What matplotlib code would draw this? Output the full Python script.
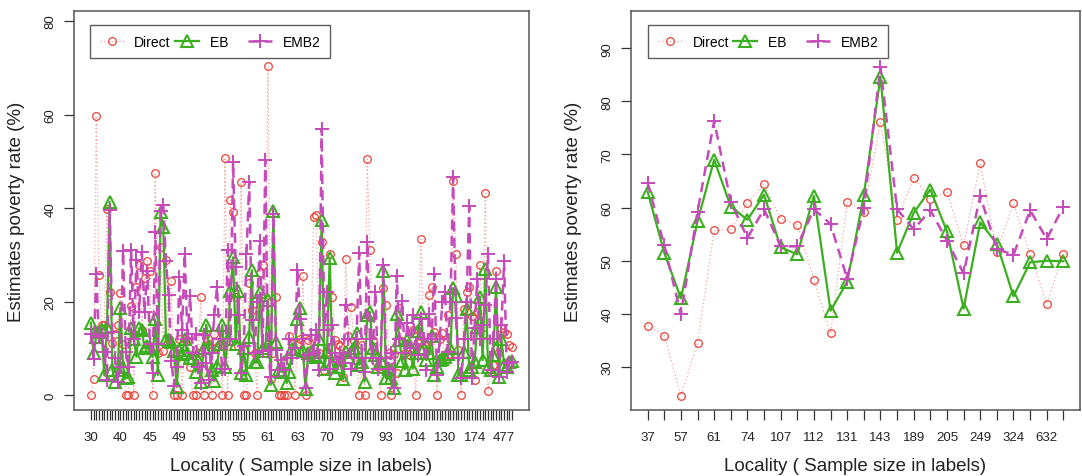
import matplotlib
matplotlib.use("Agg")
import matplotlib.pyplot as plt
from matplotlib.lines import Line2D
import numpy as np

plt.rcParams['font.family'] = ['Liberation Sans', 'DejaVu Sans']

# ---- left panel: all localities (sorted by sample size) ----
left_labels = ["30", "40", "45", "49", "53", "55", "61", "63", "70", "79",
               "93", "104", "130", "174", "477"]

left_direct = [
    0, 3.4, 59.8, 25.7, 15, 15.1, 39.8, 22, 11.2, 13,
    15, 21.8, 11, 0, 0, 19, 0, 23.1, 27.9, 14,
    25, 28.8, 26.5, 0, 47.6, 9, 31.8, 9.5, 29, 12,
    24.4, 0, 0, 12, 0, 12.1, 11.8, 6.1, 0, 0,
    9, 21.1, 0, 13, 11, 0, 13, 10.3, 11, 0,
    50.8, 0, 41.7, 39.2, 21, 10.5, 45.5, 0, 0, 24,
    18.2, 9, 0, 26.1, 27.9, 21.1, 70.3, 3.4, 9, 21,
    0, 0, 0, 0, 12.7, 11, 0, 11, 12, 25.6,
    0, 11.8, 9, 38.1, 38.6, 9, 32.8, 5.4, 9.2, 30.3,
    21, 11.8, 11, 10.5, 4, 29.1, 12.7, 18.8, 11.5, 7.5,
    0, 10.7, 0, 50.5, 31.1, 11.8, 7.3, 6, 0, 22.9,
    19.2, 9, 0, 8.9, 4.8, 18.7, 11.5, 9, 11, 8.5,
    13.9, 0, 11.2, 33.4, 11, 10.5, 21.5, 23.1, 13.5, 0,
    12.1, 13.2, 7.3, 17.1, 8.9, 45.8, 30.3, 9.6, 0, 18.5,
    22, 23.1, 17, 3.3, 17.8, 27.9, 13, 43.2, 0.9, 5,
    6.4, 26.5, 9.3, 14.4, 13.5, 13, 10.7, 10.3,
]

left_eb = [
    15.5, 9.1, 12.5, 13.6, 14, 4.3, 14.6, 41.4, 5.5, 2.9,
    5.5, 18.7, 6, 3.6, 3.8, 14.3, 12.1, 8.2, 14.3, 14,
    10.1, 10.6, 10.1, 8.2, 16.2, 4.3, 39.1, 35.9, 12, 11.8,
    11.4, 9.5, 1.8, 9.6, 8.9, 12.1, 9, 8, 8, 5,
    7.5, 2.9, 10, 15.1, 10.4, 5.4, 3, 6.3, 10.9, 15,
    6, 12, 22.3, 29.5, 10.9, 22.3, 4.7, 10, 4.3, 12.5,
    26.7, 7, 7, 22, 10, 9.5, 20.3, 2.2, 39.4, 11.3,
    5.5, 5, 7, 2.6, 5, 9.8, 9.8, 16.2, 18.6, 9.5,
    1.4, 9, 9.3, 8.5, 8.2, 12, 37.4, 5.7, 9.3, 29.4,
    6.8, 4.7, 6, 7.5, 3.4, 9.3, 8.2, 9.3, 10, 13.2,
    6.5, 7.2, 2.9, 17.1, 17.8, 10, 8.6, 6, 7.3, 26.5,
    3.6, 5.7, 3.6, 1.6, 17.4, 11.8, 7.3, 5.5, 11.8, 10,
    5.7, 9, 13.7, 17.7, 10, 7.5, 9, 12.7, 4.3, 6,
    7.5, 7.8, 8.2, 8.9, 10, 22.9, 21.3, 4.3, 4.3, 9.3,
    18.5, 5.4, 6, 7.2, 14.5, 21.1, 7.5, 27, 6, 5.5,
    8.7, 23.1, 3.8, 12.1, 6.5, 6.1, 7, 7.3,
]

left_emb2 = [
    13, 7.7, 26, 12.5, 12.8, 9.3, 3.3, 39.6, 13.5, 7.9,
    2.9, 6, 30.9, 9.3, 6.1, 31, 12, 28.9, 17.9, 30.6,
    17.7, 26.5, 11, 4.7, 35, 10.9, 39.5, 40.7, 28.6, 21.5,
    7.3, 2, 6, 25.2, 14, 30.2, 12, 21.2, 9, 13,
    6, 2.7, 12.8, 6.8, 3.3, 9, 17.1, 23.1, 12, 5.7,
    5.7, 31.1, 12, 49.9, 27.4, 17.1, 4.7, 10.5, 30.2, 45.6,
    16, 9, 20, 32.9, 9.5, 50.4, 9.6, 4, 38.7, 9.7,
    5.5, 7.5, 5.5, 8, 12, 8, 10, 26.7, 16.4, 12,
    1.6, 8.5, 12.8, 9, 13.9, 5.5, 57, 14, 22, 5.7,
    15.1, 9, 7.2, 9, 6.8, 19.2, 12, 5.7, 8, 12,
    30.4, 8, 5, 32.7, 12, 8, 22.1, 5.7, 8, 27.9,
    8, 5.7, 9, 1.6, 25.6, 12, 20.1, 9, 15.5, 10,
    17.2, 11, 8.7, 16.4, 12, 5.4, 17.4, 12, 26, 4.3,
    12, 19.9, 22.1, 9.3, 20, 46.7, 16.5, 8, 3.6, 12,
    20, 40.5, 3.6, 14.3, 24.9, 12, 15, 19.2, 30.2, 5.4,
    12, 24.9, 3.8, 15, 28.6, 5, 6.8, 7.2,
]

# ---- right panel: larger localities ----
right_labels = ["37", "57", "61", "74", "107", "112", "131", "143", "189",
                "205", "249", "324", "632"]

right_direct = [37.8, 35.9, 24.6, 34.5, 55.7, 55.9, 60.8, 64.4, 57.9, 56.7,
                46.4, 36.3, 61.1, 59.2, 76.2, 57.7, 65.6, 61.7, 62.9, 53.0,
                68.3, 51.7, 60.8, 51.2, 41.9, 51.2]
right_eb = [63.0, 51.5, 42.9, 57.4, 69.0, 60.2, 57.7, 62.4, 52.5, 51.2,
            62.2, 40.6, 46.0, 62.3, 84.6, 51.5, 59.0, 63.4, 55.5, 41.0,
            57.2, 53.2, 43.3, 49.7, 50.0, 49.9]
right_emb2 = [64.7, 52.9, 39.9, 59.2, 76.3, 61.1, 54.3, 59.7, 52.7, 52.7,
              59.7, 56.9, 46.6, 60.0, 86.5, 59.7, 55.9, 59.5, 53.8, 47.6,
              62.2, 52.2, 51.1, 59.5, 54.1, 60.2]

RED = "#EE4036"
RED_LINE = "#F6A5A0"
GREEN = "#3BAF1F"
MAGENTA = "#C64BBA"
FRAME = "#555555"


def draw_panel(ax, direct, eb, emb2, labels, step, ylim, yticks, leg_x):
    x = np.arange(1, len(direct) + 1)
    ax.plot(x, direct, color=RED_LINE, lw=0.9, ls=(0, (1, 2)), zorder=1)
    ax.plot(x, direct, ls="none", marker="o", ms=5.5, mfc="none",
            mec=RED, mew=0.9, zorder=2)
    eb_line, = ax.plot(x, eb, color=GREEN, lw=1.6, marker="^", ms=8,
                       mfc="none", mec=GREEN, mew=1.5, zorder=3)
    emb_line, = ax.plot(x, emb2, color=MAGENTA, lw=1.8, ls=(0, (4, 2.5)),
                        marker="+", ms=10, mew=1.4, zorder=4)

    n = len(direct)
    pad = 0.04 * (n - 1)
    ax.set_xlim(1 - pad, n + pad)
    ax.set_ylim(*ylim)

    ax.set_xticks(x)
    ticklab = [""] * n
    for k, lab in enumerate(labels):
        ticklab[k * step] = lab
    ax.set_xticklabels(ticklab)
    ax.set_yticks(yticks)
    ax.set_yticklabels([str(t) for t in yticks], rotation=90, va="center")

    ax.tick_params(axis="both", direction="out", length=7, width=0.9,
                   color="#333333", labelsize=9.5, labelcolor="#222222")
    ax.tick_params(axis="x", pad=8)
    ax.tick_params(axis="y", pad=5.5)
    for s in ax.spines.values():
        s.set_color(FRAME)
        s.set_linewidth(1.1)

    ax.set_xlabel("Locality ( Sample size in labels)", fontsize=13.5,
                  labelpad=10, color="#222222")
    ax.set_ylabel("Estimates poverty rate (%)", fontsize=13.5,
                  labelpad=14, color="#222222")

    hd = Line2D([], [], color=RED_LINE, lw=0.9, ls=(0, (1, 2)), marker="o",
                ms=5.5, mfc="none", mec=RED, mew=0.9)
    leg = ax.legend([hd, eb_line, emb_line], ["Direct", "EB    ", "EMB2"],
                    loc="upper left", ncol=3, bbox_to_anchor=(leg_x, 0.965),
                    fontsize=10, frameon=True, fancybox=False,
                    edgecolor="#333333", handlelength=1.75, columnspacing=0.3,
                    handletextpad=0.75, borderpad=0.7, borderaxespad=0)
    leg.get_frame().set_linewidth(1.0)


fig = plt.figure(figsize=(10.82, 4.77), dpi=100)
ax1 = fig.add_axes([74 / 1082, 66 / 477, 455 / 1082, 399 / 477])
ax2 = fig.add_axes([631 / 1082, 66 / 477, 449 / 1082, 399 / 477])

draw_panel(ax1, left_direct, left_eb, left_emb2, left_labels, 11,
           (-3.16, 82.16), [0, 20, 40, 60, 80], 0.035)
draw_panel(ax2, right_direct, right_eb, right_emb2, right_labels, 2,
           (21.9, 97.0), [30, 40, 50, 60, 70, 80, 90], 0.038)

fig.savefig("out.png", dpi=100)
